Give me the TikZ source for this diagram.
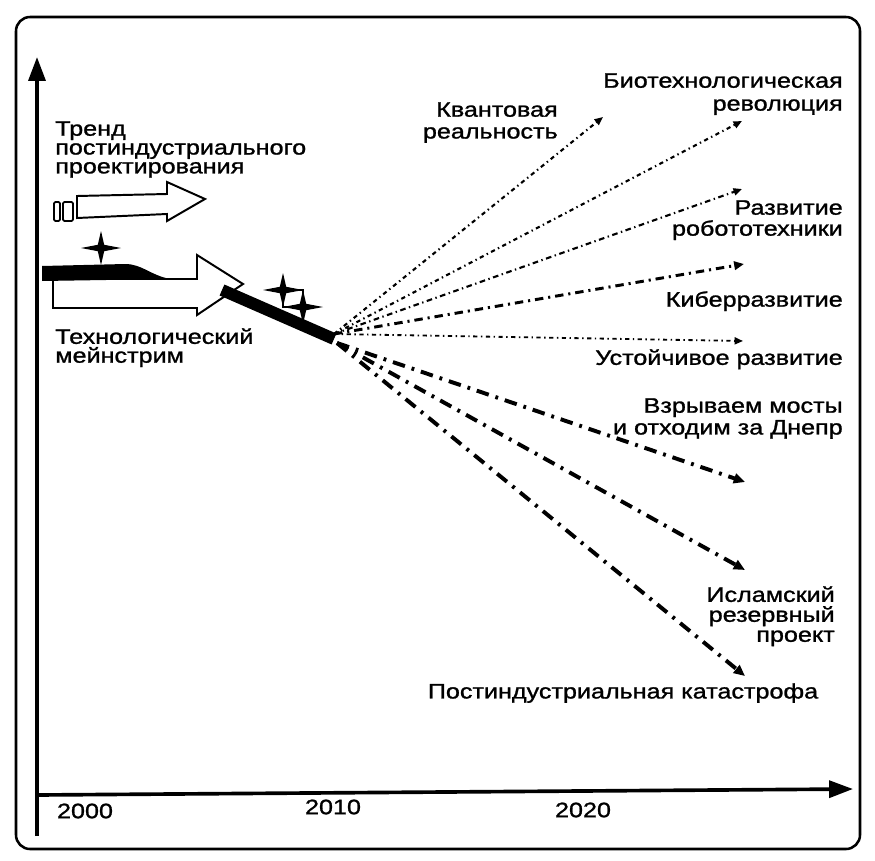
\documentclass[tikz,border=0pt]{standalone}
\usepackage{fontspec}
\setmainfont[FakeStretch=1.2, FakeBold=1.2]{Liberation Sans}
\usetikzlibrary{arrows.meta}

\tikzset{
  lbl/.style={inner sep=0pt, font=\fontsize{14.9}{#1}\selectfont},
  lbl/.default=14.9,
  axis/.style={line width=2.6pt, -{Triangle[length=17pt,width=12pt]}},
  hollow/.style={draw, fill=white, line width=1.4pt, line join=miter},
  fine/.style={line width=1.5pt, dash pattern={on 3pt off 2.5pt on 1pt off 2.5pt}, -{Triangle[length=6pt,width=5pt]}},
  medium/.style={line width=2.1pt, dash pattern={on 6pt off 3.5pt on 1.5pt off 3.5pt}, -{Triangle[length=7pt,width=6pt]}},
  heavy/.style={line width=2.8pt, dash pattern={on 9pt off 5pt on 2pt off 5pt}, -{Triangle[length=8pt,width=7pt]}}
}
\newcommand{\sparkle}[2]{\fill[shift={(#1,#2)}] (0,-17) -- (3.2,-3.2) -- (20,0) -- (3.2,3.2) -- (0,17) -- (-3.2,3.2) -- (-20,0) -- (-3.2,-3.2) -- cycle;}

\begin{document}
\begin{tikzpicture}[x=0.025cm, y=-0.025cm]
  \useasboundingbox (0,0) rectangle (875,861);
  \draw[line width=1.8pt, rounded corners=10pt] (16,17) rectangle (860,849);

  % axes
  \coordinate (ybot) at (37,836);
  \coordinate (ytop) at (37,57);
  \coordinate (xleft) at (37,795);
  \coordinate (xright) at (853,789);
  \draw[axis] (ybot) -- (ytop);
  \draw[axis] (xleft) -- (xright);
  \node[lbl] (y2000) at (85,811) {2000};
  \node[lbl] (y2010) at (333,807) {2010};
  \node[lbl] (y2020) at (583,810) {2020};

  % trend arrow
  \draw[line width=1.2pt, rounded corners=1pt] (54,202) rectangle (60,221);
  \draw[line width=1.2pt, rounded corners=1pt] (63,202) rectangle (73,221);
  \draw[hollow] (77,196) -- (167,194) -- (167,182) -- (205,199) -- (167,221) -- (167,214) -- (77,218) -- cycle;
  \node[lbl=13.4, align=left, anchor=north west] (trend) at (55,121) {Тренд\\постиндустриального\\проектирования};

  % mainstream arrow
  \draw[hollow] (53,279) -- (197,279) -- (197,255) -- (243,284) -- (197,315) -- (197,308) -- (53,308) -- cycle;
  \fill (42,266) -- (125,264) .. controls (142,264) and (150,275) .. (170,279) -- (42,281) -- cycle;
  \sparkle{101}{248}
  \node[lbl=13.4, align=left, anchor=north west] (main) at (55,328) {Технологический\\мейнстрим};

  % black bar with sparkles
  \coordinate (fanA) at (334,334);
  \coordinate (fanB) at (337,343);
  \draw[line width=8.5pt] (222,290) -- (334,339);
  \draw[line width=1.6pt] (283,290) rectangle (303,307);
  \sparkle{283}{290}
  \sparkle{303}{307}

  % scenarios
  \coordinate (kv) at (603,117);
  \coordinate (bio) at (742,121);
  \coordinate (rob) at (742,189);
  \coordinate (cyb) at (744,264);
  \coordinate (ust) at (743,341);
  \coordinate (dnp) at (745,482);
  \coordinate (isl) at (745,570);
  \coordinate (kat) at (745,676);
  \draw[fine] (fanA) -- (kv);
  \draw[fine] (fanA) -- (bio);
  \draw[fine, dash pattern={on 4pt off 2.5pt on 1pt off 2.5pt}] (fanA) -- (rob);
  \draw[medium] (fanA) -- (cyb);
  \draw[fine, line width=1.3pt] (fanA) -- (ust);
  \draw[heavy] (fanB) -- (dnp);
  \draw[heavy] (fanB) -- (isl);
  \draw[heavy] (fanB) -- (kat);

  \node[lbl=15.5, align=right, anchor=north east] (kvl) at (558,102) {Квантовая\\реальность};
  \node[lbl=16.3, align=right, anchor=north east] (biol) at (843,73) {Биотехнологическая\\революция};
  \node[lbl, align=right, anchor=north east] (robl) at (843,200) {Развитие\\робототехники};
  \node[lbl, anchor=north east] (cybl) at (843,291) {Киберразвитие};
  \node[lbl, anchor=north east] (ustl) at (843,349) {Устойчивое развитие};
  \node[lbl=15.5, align=right, anchor=north east] (dnpl) at (843,398) {Взрываем мосты\\и отходим за Днепр};
  \node[lbl=14.2, align=right, anchor=north east] (isll) at (835,586) {Исламский\\резервный\\проект};
  \node[lbl, anchor=north] (katl) at (623,683) {Постиндустриальная катастрофа};
\end{tikzpicture}
\end{document}
